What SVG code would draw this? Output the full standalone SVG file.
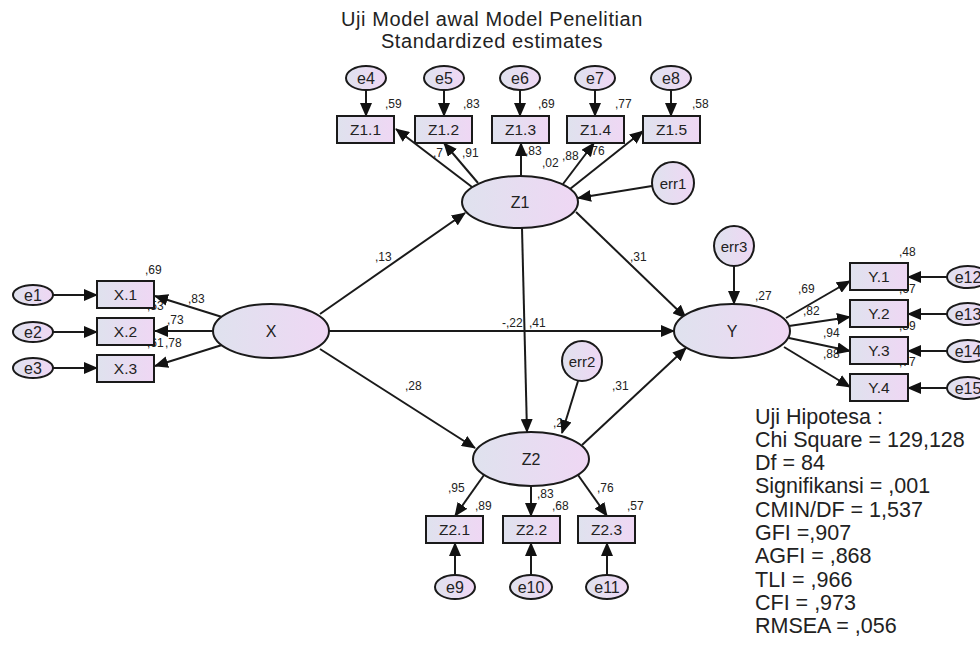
<svg xmlns="http://www.w3.org/2000/svg" width="980" height="647" viewBox="0 0 980 647">
<defs>
<linearGradient id="g" x1="0" y1="0" x2="1" y2="0">
<stop offset="0" stop-color="#dfe2ee"/>
<stop offset="1" stop-color="#efd7f4"/>
</linearGradient>
<marker id="arr" viewBox="0 0 14 12" refX="13" refY="6" markerWidth="14" markerHeight="12" orient="auto" markerUnits="userSpaceOnUse">
<path d="M0,0 L14,6 L0,12 z" fill="#111"/>
</marker>
</defs>
<style>
.n{fill:url(#g);stroke:#1a1a1a;stroke-width:2}
.c line{stroke:#1a1a1a;stroke-width:2;marker-end:url(#arr)}
text{font-family:"Liberation Sans",Arial,Helvetica,sans-serif;fill:#222}
.lb{font-size:15.5px;text-anchor:middle}
.el{font-size:16px;text-anchor:middle}
.er{font-size:15px;text-anchor:middle}
.s{font-size:12px}
.big{font-size:21.5px}
.ttl{font-size:20px;letter-spacing:0.6px;text-anchor:middle}
</style>
<rect width="980" height="647" fill="#ffffff"/>

<g id="title">
<text class="ttl" x="492" y="25.5">Uji Model awal Model Penelitian</text>
<text class="ttl" x="492" y="48">Standardized estimates</text>
</g>

<g id="labels">
<text class="s" x="385" y="108">,59</text>
<text class="s" x="463" y="108">,83</text>
<text class="s" x="538" y="108">,69</text>
<text class="s" x="615" y="108">,77</text>
<text class="s" x="692" y="108">,58</text>
<text class="s" x="433" y="157">,7</text>
<text class="s" x="462" y="157">,91</text>
<text class="s" x="525" y="155">,83</text>
<text class="s" x="542" y="167">,02</text>
<text class="s" x="562" y="160">,88</text>
<text class="s" x="588" y="155">,76</text>
<text class="s" x="145" y="274">,69</text>
<text class="s" x="188" y="303">,83</text>
<text class="s" x="147" y="310">,53</text>
<text class="s" x="167" y="324">,73</text>
<text class="s" x="147" y="347">,61</text>
<text class="s" x="165" y="347">,78</text>
<text class="s" x="375" y="261">,13</text>
<text class="s" x="630" y="261">,31</text>
<text class="s" x="502" y="327">-,22</text>
<text class="s" x="529" y="327">,41</text>
<text class="s" x="405" y="390">,28</text>
<text class="s" x="612" y="390">,31</text>
<text class="s" x="553" y="427">,2</text>
<text class="s" x="755" y="300">,27</text>
<text class="s" x="899" y="256">,48</text>
<text class="s" x="899" y="293">,67</text>
<text class="s" x="899" y="330">,89</text>
<text class="s" x="899" y="366">,77</text>
<text class="s" x="798" y="293">,69</text>
<text class="s" x="803" y="315">,82</text>
<text class="s" x="823" y="337">,94</text>
<text class="s" x="823" y="358">,88</text>
<text class="s" x="448" y="492">,95</text>
<text class="s" x="475" y="510">,89</text>
<text class="s" x="537" y="498">,83</text>
<text class="s" x="552" y="510">,68</text>
<text class="s" x="597" y="492">,76</text>
<text class="s" x="627" y="510">,57</text>
</g>

<g id="connectors" class="c">
<line x1="366" y1="90" x2="366" y2="116"/>
<line x1="444" y1="90" x2="444" y2="116"/>
<line x1="520" y1="90" x2="520" y2="116"/>
<line x1="595" y1="90" x2="595" y2="116"/>
<line x1="671" y1="90" x2="671" y2="116"/>
<line x1="472" y1="187" x2="396" y2="129"/>
<line x1="478" y1="183" x2="444" y2="143"/>
<line x1="521" y1="176" x2="521" y2="143"/>
<line x1="563" y1="184" x2="594" y2="143"/>
<line x1="570" y1="189" x2="643" y2="131"/>
<line x1="652" y1="186" x2="578" y2="198"/>
<line x1="53" y1="295" x2="97" y2="295"/>
<line x1="53" y1="332" x2="97" y2="332"/>
<line x1="53" y1="368" x2="97" y2="368"/>
<line x1="222" y1="317" x2="155" y2="296"/>
<line x1="213" y1="331" x2="155" y2="331"/>
<line x1="222" y1="345" x2="155" y2="366"/>
<line x1="320" y1="314" x2="465" y2="213"/>
<line x1="320" y1="349" x2="475" y2="448"/>
<line x1="329" y1="331" x2="674" y2="331"/>
<line x1="576" y1="212" x2="686" y2="318"/>
<line x1="582" y1="445" x2="686" y2="348"/>
<line x1="522" y1="228" x2="527" y2="432"/>
<line x1="578" y1="381" x2="562" y2="433"/>
<line x1="734" y1="266" x2="734" y2="304"/>
<line x1="786" y1="318" x2="850" y2="281"/>
<line x1="789" y1="326" x2="850" y2="317"/>
<line x1="789" y1="338" x2="850" y2="351"/>
<line x1="784" y1="347" x2="850" y2="387"/>
<line x1="947" y1="277" x2="908" y2="277"/>
<line x1="947" y1="314" x2="908" y2="314"/>
<line x1="947" y1="351" x2="908" y2="351"/>
<line x1="947" y1="388" x2="908" y2="388"/>
<line x1="484" y1="475" x2="455" y2="516"/>
<line x1="531" y1="486" x2="531" y2="516"/>
<line x1="578" y1="475" x2="607" y2="516"/>
<line x1="455" y1="575" x2="455" y2="543"/>
<line x1="531" y1="575" x2="531" y2="543"/>
<line x1="607" y1="575" x2="607" y2="543"/>
</g>

<g id="e4"><ellipse class="n" cx="366" cy="78" rx="20" ry="12"/><text class="el" x="366" y="83.5">e4</text></g>
<g id="e5"><ellipse class="n" cx="444" cy="78" rx="20" ry="12"/><text class="el" x="444" y="83.5">e5</text></g>
<g id="e6"><ellipse class="n" cx="520" cy="78" rx="20" ry="12"/><text class="el" x="520" y="83.5">e6</text></g>
<g id="e7"><ellipse class="n" cx="595" cy="78" rx="20" ry="12"/><text class="el" x="595" y="83.5">e7</text></g>
<g id="e8"><ellipse class="n" cx="671" cy="78" rx="20" ry="12"/><text class="el" x="671" y="83.5">e8</text></g>

<g id="Z1_1"><rect class="n" x="337" y="116" width="57" height="27"/><text class="lb" x="365.5" y="135">Z1.1</text></g>
<g id="Z1_2"><rect class="n" x="415" y="116" width="57" height="27"/><text class="lb" x="443.5" y="135">Z1.2</text></g>
<g id="Z1_3"><rect class="n" x="492" y="116" width="57" height="27"/><text class="lb" x="520.5" y="135">Z1.3</text></g>
<g id="Z1_4"><rect class="n" x="567" y="116" width="57" height="27"/><text class="lb" x="595.5" y="135">Z1.4</text></g>
<g id="Z1_5"><rect class="n" x="643" y="116" width="57" height="27"/><text class="lb" x="671.5" y="135">Z1.5</text></g>

<g id="Z1"><ellipse class="n" cx="520" cy="202" rx="58" ry="26"/><text class="el" x="520" y="208">Z1</text></g>
<g id="err1"><circle class="n" cx="673" cy="183" r="21"/><text class="er" x="673" y="188.5">err1</text></g>

<g id="e1"><ellipse class="n" cx="33" cy="295" rx="20" ry="10"/><text class="el" x="33" y="300.5">e1</text></g>
<g id="e2"><ellipse class="n" cx="33" cy="332" rx="20" ry="10"/><text class="el" x="33" y="337.5">e2</text></g>
<g id="e3"><ellipse class="n" cx="33" cy="368" rx="20" ry="10"/><text class="el" x="33" y="373.5">e3</text></g>

<g id="X_1"><rect class="n" x="97" y="281" width="57" height="27"/><text class="lb" x="125.5" y="300">X.1</text></g>
<g id="X_2"><rect class="n" x="97" y="318" width="57" height="27"/><text class="lb" x="125.5" y="337">X.2</text></g>
<g id="X_3"><rect class="n" x="97" y="355" width="57" height="27"/><text class="lb" x="125.5" y="374">X.3</text></g>

<g id="X"><ellipse class="n" cx="271" cy="331" rx="58" ry="27"/><text class="el" x="271" y="337">X</text></g>

<g id="err2"><circle class="n" cx="582" cy="361" r="20"/><text class="er" x="582" y="366.5">err2</text></g>
<g id="Z2"><ellipse class="n" cx="531" cy="459" rx="58" ry="27"/><text class="el" x="531" y="465">Z2</text></g>

<g id="Z2_1"><rect class="n" x="426" y="516" width="57" height="27"/><text class="lb" x="454.5" y="535">Z2.1</text></g>
<g id="Z2_2"><rect class="n" x="503" y="516" width="57" height="27"/><text class="lb" x="531.5" y="535">Z2.2</text></g>
<g id="Z2_3"><rect class="n" x="578" y="516" width="57" height="27"/><text class="lb" x="606.5" y="535">Z2.3</text></g>

<g id="e9"><ellipse class="n" cx="455" cy="587" rx="20" ry="12"/><text class="el" x="455" y="592.5">e9</text></g>
<g id="e10"><ellipse class="n" cx="531" cy="587" rx="21" ry="12"/><text class="el" x="531" y="592.5">e10</text></g>
<g id="e11"><ellipse class="n" cx="607" cy="587" rx="21" ry="12"/><text class="el" x="607" y="592.5">e11</text></g>

<g id="err3"><circle class="n" cx="734" cy="246" r="20"/><text class="er" x="734" y="251.5">err3</text></g>
<g id="Y"><ellipse class="n" cx="732" cy="331" rx="58" ry="27"/><text class="el" x="732" y="337">Y</text></g>

<g id="Y_1"><rect class="n" x="850" y="263" width="58" height="27"/><text class="lb" x="879" y="282">Y.1</text></g>
<g id="Y_2"><rect class="n" x="850" y="300" width="58" height="27"/><text class="lb" x="879" y="319">Y.2</text></g>
<g id="Y_3"><rect class="n" x="850" y="337" width="58" height="27"/><text class="lb" x="879" y="356">Y.3</text></g>
<g id="Y_4"><rect class="n" x="850" y="374" width="58" height="27"/><text class="lb" x="879" y="393">Y.4</text></g>

<g id="e12"><ellipse class="n" cx="968" cy="277" rx="21" ry="11"/><text class="el" x="968" y="282.5">e12</text></g>
<g id="e13"><ellipse class="n" cx="968" cy="314" rx="21" ry="11"/><text class="el" x="968" y="319.5">e13</text></g>
<g id="e14"><ellipse class="n" cx="968" cy="351" rx="21" ry="11"/><text class="el" x="968" y="356.5">e14</text></g>
<g id="e15"><ellipse class="n" cx="968" cy="388" rx="21" ry="11"/><text class="el" x="968" y="393.5">e15</text></g>

<g id="fit">
<text class="big" x="755" y="424">Uji Hipotesa :</text>
<text class="big" x="755" y="447">Chi Square = 129,128</text>
<text class="big" x="755" y="470">Df = 84</text>
<text class="big" x="755" y="493">Signifikansi = ,001</text>
<text class="big" x="755" y="517">CMIN/DF = 1,537</text>
<text class="big" x="755" y="540">GFI =,907</text>
<text class="big" x="755" y="563">AGFI = ,868</text>
<text class="big" x="755" y="587">TLI = ,966</text>
<text class="big" x="755" y="610">CFI = ,973</text>
<text class="big" x="755" y="633">RMSEA = ,056</text>
</g>
</svg>
